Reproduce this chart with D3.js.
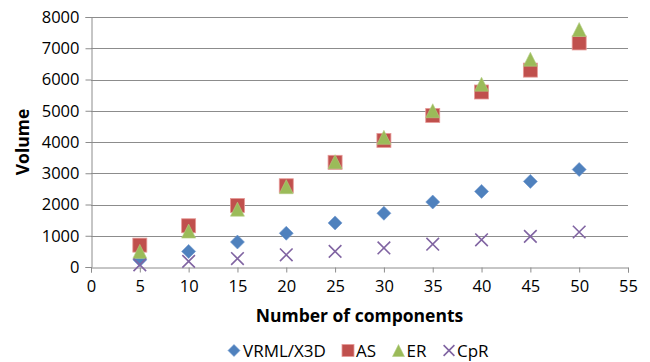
<!DOCTYPE html>
<html>
<head>
<meta charset="utf-8">
<script src="https://cdn.jsdelivr.net/npm/d3@7"></script>
<style>
  html, body { margin: 0; padding: 0; background: #fff; }
  svg text { font-family: "Open Sans", "Liberation Sans", sans-serif; fill: #000; }
</style>
</head>
<body>
<svg id="chart" width="650" height="362"></svg>
<script>
// Number of components on the x axis
const components = [5, 10, 15, 20, 25, 30, 35, 40, 45, 50];

// Volume for each representation
const vrmlX3d = [230, 500, 800, 1080, 1410, 1720, 2080, 2420, 2740, 3120];
const as      = [700, 1320, 1970, 2600, 3350, 4050, 4850, 5600, 6300, 7170];
const er      = [500, 1150, 1850, 2570, 3370, 4150, 5000, 5850, 6650, 7600];
const cpr     = [70, 180, 270, 390, 500, 610, 730, 870, 980, 1120];

const xTicks = [0, 5, 10, 15, 20, 25, 30, 35, 40, 45, 50, 55];
const yTicks = [0, 1000, 2000, 3000, 4000, 5000, 6000, 7000, 8000];

const seriesNames = ["VRML/X3D", "AS", "ER", "CpR"];
const seriesValues = [vrmlX3d, as, er, cpr];
const seriesColors = ["#4F81BD", "#C0504D", "#9BBB59", "#8064A2"];
const seriesShapes = ["diamond", "square", "triangle", "cross"];

const svg = d3.select("#chart");
const margin = { left: 91, right: 22, top: 17, bottom: 95 };
const W = 650, H = 362;

const x = d3.scaleLinear().domain([0, 55]).range([margin.left, W - margin.right]);
const y = d3.scaleLinear().domain([0, 8000]).range([H - margin.bottom, margin.top]);

const gridColor = "#8C8C8C";

// horizontal gridlines
svg.append("g")
  .selectAll("line")
  .data(yTicks.filter(d => d > 0))
  .join("line")
  .attr("x1", x(0)).attr("x2", x(55))
  .attr("y1", d => Math.round(y(d)) + 0.5).attr("y2", d => Math.round(y(d)) + 0.5)
  .attr("stroke", gridColor).attr("stroke-width", 1);

// y axis
const yAxis = svg.append("g")
  .attr("transform", `translate(${Math.round(x(0)) + 0.5},0)`)
  .call(d3.axisLeft(y).tickValues(yTicks).tickSize(6).tickPadding(6).tickFormat(d3.format("d")));

// x axis
const xAxis = svg.append("g")
  .attr("transform", `translate(0,${Math.round(y(0)) + 0.5})`)
  .call(d3.axisBottom(x).tickValues(xTicks).tickSize(5).tickPadding(7.5).tickFormat(d3.format("d")));

[yAxis, xAxis].forEach(g => {
  g.select(".domain").attr("stroke", gridColor);
  g.selectAll(".tick line").attr("stroke", gridColor);
  g.selectAll(".tick text").attr("font-size", 16.5).attr("fill", "#000")
    .style("font-family", '"Open Sans", "Liberation Sans", sans-serif');
});

// marker drawing helper
function drawMarker(g, shape, color, cx, cy, s) {
  const h = s / 2;
  if (shape === "diamond") {
    g.append("path")
      .attr("d", `M${cx},${cy - h}L${cx + h},${cy}L${cx},${cy + h}L${cx - h},${cy}Z`)
      .attr("fill", color).attr("stroke", "#6E97CE").attr("stroke-width", 0.6);
  } else if (shape === "square") {
    g.append("rect")
      .attr("x", cx - h).attr("y", cy - h).attr("width", s).attr("height", s)
      .attr("fill", color).attr("stroke", "#E79A98").attr("stroke-width", 0.8);
  } else if (shape === "triangle") {
    g.append("path")
      .attr("d", `M${cx},${cy - h}L${cx + h},${cy + h}L${cx - h},${cy + h}Z`)
      .attr("fill", color).attr("stroke", "#B3CF85").attr("stroke-width", 0.6);
  } else {
    const r = h * 0.9;
    g.append("path")
      .attr("d", `M${cx - r},${cy - r}L${cx + r},${cy + r}M${cx - r},${cy + r}L${cx + r},${cy - r}`)
      .attr("fill", "none").attr("stroke", color).attr("stroke-width", 1.6);
  }
}

// data points
seriesValues.forEach((vals, i) => {
  const g = svg.append("g").attr("class", "series");
  vals.forEach((v, j) => {
    drawMarker(g, seriesShapes[i], seriesColors[i], x(components[j]), y(v), 14);
  });
});

// axis titles
svg.append("text")
  .attr("x", 359.5).attr("y", 321.5)
  .attr("text-anchor", "middle").attr("font-size", 17.5).attr("font-weight", "bold")
  .text("Number of components");

svg.append("text")
  .attr("transform", `translate(29,${(y(0) + y(8000)) / 2}) rotate(-90)`)
  .attr("text-anchor", "middle").attr("font-size", 17.5).attr("font-weight", "bold")
  .text("Volume");

// legend
const legendItems = [
  { m: 234, t: 243 },
  { m: 348, t: 356 },
  { m: 398.5, t: 406.5 },
  { m: 449, t: 457 }
];
const legend = svg.append("g").attr("class", "legend");
seriesNames.forEach((name, i) => {
  const cy = 350.5;
  drawMarker(legend, seriesShapes[i], seriesColors[i], legendItems[i].m, cy, 12);
  legend.append("text")
    .attr("x", legendItems[i].t).attr("y", 356.5)
    .attr("font-size", 17)
    .text(name);
});
</script>
</body>
</html>
